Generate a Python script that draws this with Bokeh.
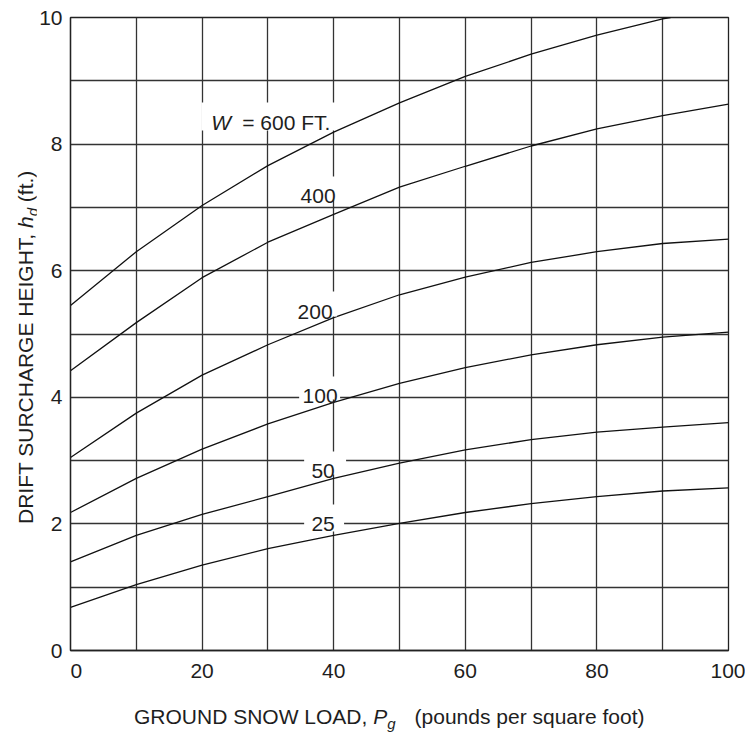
from bokeh.plotting import figure
from bokeh.models import Range1d, FixedTicker, Label, BoxAnnotation, Div
from bokeh.layouts import row, column
from bokeh.embed import file_html
from bokeh.resources import INLINE

# ---------------- data ----------------
pg = [0, 10, 20, 30, 40, 50, 60, 70, 80, 90, 100]
h_25 = [0.68, 1.04, 1.35, 1.61, 1.82, 2.01, 2.18, 2.32, 2.43, 2.52, 2.57]
h_50 = [1.40, 1.82, 2.15, 2.43, 2.72, 2.96, 3.17, 3.33, 3.45, 3.53, 3.60]
h_100 = [2.18, 2.72, 3.18, 3.58, 3.92, 4.22, 4.47, 4.67, 4.83, 4.95, 5.03]
h_200 = [3.05, 3.75, 4.35, 4.83, 5.26, 5.62, 5.90, 6.13, 6.30, 6.43, 6.50]
h_400 = [4.42, 5.18, 5.89, 6.45, 6.89, 7.32, 7.65, 7.97, 8.24, 8.45, 8.63]
pg_600 = [0, 10, 20, 30, 40, 50, 60, 70, 80, 90, 91.2]
h_600 = [5.45, 6.30, 7.03, 7.66, 8.19, 8.65, 9.07, 9.42, 9.72, 9.98, 10.0]

x_ticks = [0, 20, 40, 60, 80, 100]
y_ticks = [0, 2, 4, 6, 8, 10]
x_grid = [0, 10, 20, 30, 40, 50, 60, 70, 80, 90, 100]
y_grid = [0, 1, 2, 3, 4, 5, 6, 7, 8, 9, 10]

series = [
    (pg, h_25), (pg, h_50), (pg, h_100), (pg, h_200), (pg, h_400), (pg_600, h_600)
]

# ---------------- layout ----------------
YW = 36                     # width of the y-title column
W, H = 745 - YW, 690
ML, MR, MT, MB = 69 - YW, 17, 17, 40
FONT = "Liberation Sans"
TXT = "#1e1e1e"

p = figure(width=W, height=H, output_backend="svg", toolbar_location=None,
           x_range=Range1d(0, 100), y_range=Range1d(0, 10),
           min_border_left=ML, min_border_right=MR,
           min_border_top=MT, min_border_bottom=MB, margin=0)
p.background_fill_color = "white"
p.border_fill_color = "white"
p.outline_line_color = "#222222"
p.outline_line_width = 1.3

# page-pixel -> data helpers (page x of frame left = 69)
FX0, FX1 = 69, 728
FY0, FY1 = MT, H - MB
def px2x(px):
    return (px - FX0) / (FX1 - FX0) * 100.0
def py2y(py):
    return (FY1 - py) / (FY1 - FY0) * 10.0

for ax in (p.xaxis[0], p.yaxis[0]):
    ax.axis_line_color = "#222222"
    ax.axis_line_width = 1.3
    ax.major_tick_line_color = None
    ax.minor_tick_line_color = None
    ax.major_tick_out = 0
    ax.major_tick_in = 0
    ax.major_label_text_font = FONT
    ax.major_label_text_font_size = "21px"
    ax.major_label_text_color = TXT
    ax.major_label_standoff = 8

p.xaxis.ticker = FixedTicker(ticks=x_ticks)
p.xaxis.major_label_overrides = {0: "\u00a0\u00a00"}
p.yaxis.ticker = FixedTicker(ticks=y_ticks)
p.xgrid.ticker = FixedTicker(ticks=x_grid)
p.ygrid.ticker = FixedTicker(ticks=y_grid)
for g in (p.xgrid[0], p.ygrid[0]):
    g.grid_line_color = "#333333"
    g.grid_line_width = 1.3

for xs, ys in series:
    p.line(xs, ys, line_color="#111111", line_width=1.3)

# ---------------- curve labels with white boxes ----------------
def box(l, r, t, b):
    p.add_layout(BoxAnnotation(left=px2x(l), right=px2x(r), top=py2y(t), bottom=py2y(b),
                               fill_color="white", fill_alpha=1.0, line_color=None,
                               line_alpha=0))

def lab(text, px, py, size="21px", style="normal", align="left"):
    p.add_layout(Label(x=px2x(px), y=py2y(py), text=text, text_font=FONT,
                       text_font_size=size, text_font_style=style, text_color=TXT,
                       text_align=align, text_baseline="alphabetic"))

box(200, 334, 102, 130)
lab("W", 210, 122, style="italic")
lab("= 600 FT.", 241, 122)

box(296, 338, 176, 199)
lab("400", 317, 195, align="center")
box(293, 336, 291, 316)
lab("200", 314, 311, align="center")
box(298, 339, 376, 399)
lab("100", 319, 395, align="center")
box(303, 345, 451, 474)
lab("50", 322, 470, align="center")
box(303, 343, 504, 531)
lab("25", 322, 523, align="center")

# ---------------- axis titles (HTML, with subscripts) ----------------
SUB = "font-size:15px; vertical-align:-5px; line-height:0;"
x_title = Div(width=745, height=43, margin=0, text=(
    f"<div style=\"white-space:nowrap; font-family:'{FONT}'; font-size:21px; "
    f"line-height:normal; color:{TXT}; margin-left:134px; padding-top:15px;\">"
    f"GROUND SNOW LOAD, <i>P<sub style=\"{SUB}\">g</sub></i>"
    f"<span style=\"margin-left:19px;\">(pounds per square foot)</span></div>"))

y_title = Div(width=YW, height=H, margin=0, text=(
    f"<div style=\"writing-mode:vertical-rl; text-orientation:sideways; "
    f"transform:rotate(180deg); white-space:nowrap; font-family:'{FONT}'; "
    f"font-size:21px; line-height:normal; color:{TXT}; margin-left:14px; "
    f"margin-top:163px; height:361px;\">"
    f"DRIFT SURCHARGE HEIGHT, <i>h<sub style=\"{SUB}\">d</sub></i> (ft.)</div>"))

layout = column(row(y_title, p, spacing=0, margin=0), x_title, spacing=0, margin=0)

open("out.html", "w").write(file_html(layout, INLINE))
